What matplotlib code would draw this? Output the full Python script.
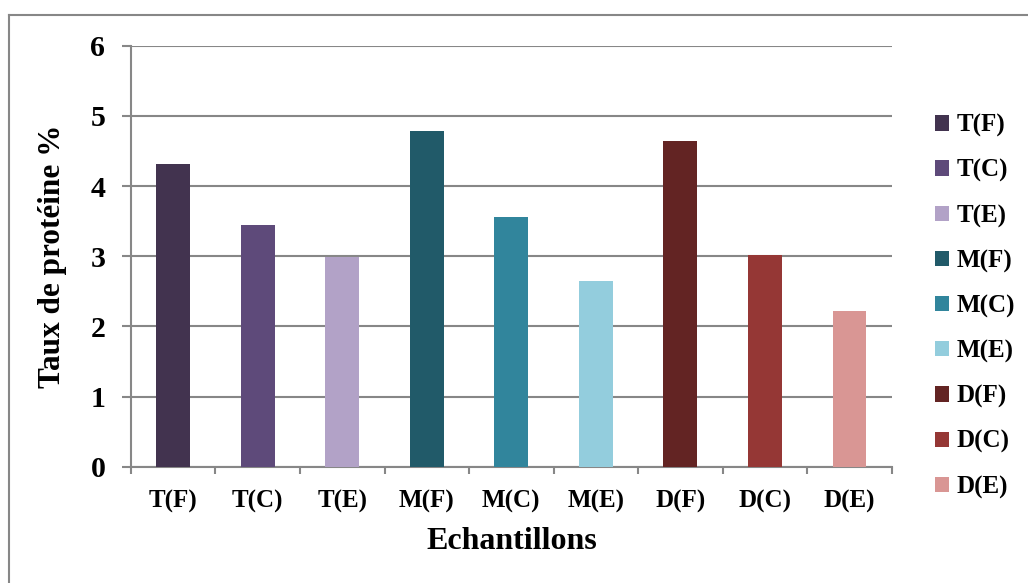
import matplotlib
matplotlib.use("Agg")
import matplotlib.pyplot as plt
from matplotlib.patches import Patch
from matplotlib.lines import Line2D

# échantillons et taux de protéine (%)
echantillons = ["T(F)", "T(C)", "T(E)", "M(F)", "M(C)", "M(E)", "D(F)", "D(C)", "D(E)"]
taux = [4.31, 3.44, 2.99, 4.78, 3.56, 2.65, 4.64, 3.02, 2.22]
couleurs = ["#42334F", "#5E4A7A", "#B2A2C7", "#215A69", "#31859C",
            "#93CDDD", "#632423", "#953735", "#D99694"]

plt.rcParams["font.family"] = ["Liberation Serif", "DejaVu Serif"]
plt.rcParams["font.weight"] = "bold"

gris = "#878787"

fig = plt.figure(figsize=(10.28, 5.83), dpi=100)
ax = fig.add_axes([0.1274, 0.1995, 0.7400, 0.7221])

x = range(len(echantillons))
ax.bar(x, taux, width=0.40, color=couleurs, zorder=3)

ax.set_ylim(0, 6)
ax.set_xlim(-0.5, len(echantillons) - 0.5)
ax.set_yticks(range(0, 7))
ax.yaxis.grid(True, color=gris, linewidth=1.5, zorder=0)

# étiquettes au centre, petites graduations entre les catégories
ax.set_xticks(list(x))
ax.set_xticklabels(echantillons, fontsize=18, fontweight="bold")
ax.set_xticks([i - 0.5 for i in range(len(echantillons) + 1)], minor=True)
ax.tick_params(axis="x", which="major", length=0, pad=17)
ax.tick_params(axis="x", which="minor", length=5, width=1.5, color=gris)
ax.tick_params(axis="y", length=6.5, width=1.5, color=gris, pad=12, labelsize=21.5)
for lab in ax.get_yticklabels():
    lab.set_fontweight("bold")

for s in ["top", "right"]:
    ax.spines[s].set_visible(False)
for s in ["left", "bottom"]:
    ax.spines[s].set_color(gris)
    ax.spines[s].set_linewidth(1.5)

ax.set_xlabel("Echantillons", fontsize=23, fontweight="bold", labelpad=10)
ax.set_ylabel("Taux de protéine %", fontsize=22.5, fontweight="bold", labelpad=17)

# légende à droite
poignees = [Patch(facecolor=c, edgecolor="none") for c in couleurs]
fig.legend(poignees, echantillons, loc="upper left",
           bbox_to_anchor=(0.900, 0.822), frameon=False,
           prop={"size": 18, "weight": "bold"},
           handlelength=0.56, handleheight=0.56, handletextpad=0.3,
           labelspacing=0.87, borderaxespad=0)

# cadre du graphique
y_haut = 1 - 15 / 583
x_gauche = 9 / 1028
fig.add_artist(Line2D([x_gauche, 1], [y_haut, y_haut], color=gris, linewidth=1.5))
fig.add_artist(Line2D([x_gauche, x_gauche], [0, y_haut], color=gris, linewidth=1.5))

fig.savefig("out.png", dpi=100)
